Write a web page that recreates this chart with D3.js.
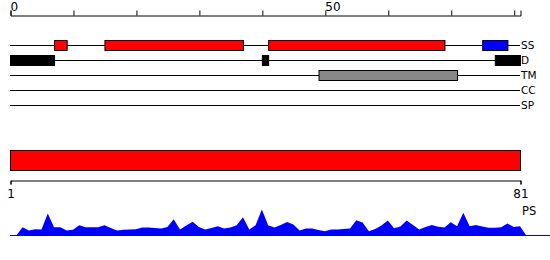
<!DOCTYPE html>
<html lang="en">
<head>
<meta charset="utf-8">
<title>Protein feature plot</title>
<script src="https://d3js.org/d3.v7.min.js"></script>
<style>
  body { margin: 0; background: #fff; }
  text { font-family: "DejaVu Sans", sans-serif; fill: #000; }
</style>
</head>
<body>
<script>
// residue ruler
const rulerTicks = [0, 10, 20, 30, 40, 50, 60, 70, 80];
const rulerLabels = [0, 50];
const seqEnds = [1, 81];

// feature tracks
const trackNames = ["SS", "D", "TM", "CC", "SP"];
const ssStarts = [7, 15, 41, 75];
const ssEnds = [9, 37, 69, 79];
const ssTypes = ["helix", "helix", "helix", "strand"];
const disoStarts = [0, 40, 77];
const disoEnds = [7, 41, 81];
const tmStarts = [49];
const tmEnds = [71];

// per-residue PS profile, residues 1..81
const psValues = [
  0, 8.3, 5, 6.3, 6, 22, 8.3, 8.3, 5, 5.7,
  10.3, 8.3, 8.3, 8.3, 10.3, 7.5, 5, 5.7, 6, 6.3,
  8, 8, 7.5, 7, 8.5, 16.3, 6, 10, 13.7, 8.5,
  6, 7.5, 9.3, 7, 8, 10.3, 18.3, 6, 10.3, 26,
  10.3, 8, 10.5, 13.5, 11, 5, 7, 7, 5.5, 4.3,
  6, 6, 6.5, 7, 15.3, 13, 4.3, 6.5, 10, 15,
  7.3, 9, 15, 10.5, 6, 8.5, 10.5, 8.7, 8, 13.3,
  9.3, 22.7, 9.3, 10.5, 9, 7.7, 7.7, 8.3, 12, 8.5,
  9.3
];

const W = 550, H = 260;
const svg = d3.select("body").append("svg")
  .attr("width", W).attr("height", H);

const x = d3.scaleLinear().domain([0, 81]).range([10, 520]);
const xSeq = d3.scaleLinear().domain(seqEnds).range([10, 520]);
const yTrack = d3.scalePoint().domain(trackNames).range([45, 105]);
const boxH = 10;

// top ruler
const topAxis = d3.axisTop(x)
  .tickValues(rulerTicks)
  .tickSizeOuter(0)
  .tickSize(5)
  .tickPadding(0)
  .tickFormat(d => rulerLabels.includes(d) ? d : "");
const gTop = svg.append("g").attr("transform", "translate(0.5,15.5)").call(topAxis);
gTop.select(".domain").attr("stroke", "#000");
gTop.selectAll("text")
  .attr("font-family", "DejaVu Sans").attr("font-size", 12)
  .attr("text-anchor", "start").attr("dx", -0.5);

// track baselines and labels
const tracks = svg.append("g").attr("transform", "translate(0,0.5)");
tracks.selectAll("line.track")
  .data(trackNames).join("line")
  .attr("class", "track")
  .attr("x1", x(0)).attr("x2", x(81))
  .attr("y1", d => yTrack(d)).attr("y2", d => yTrack(d))
  .attr("stroke", "#000");
tracks.selectAll("text.track")
  .data(trackNames).join("text")
  .attr("class", "track")
  .attr("x", x(81) + 1)
  .attr("y", d => yTrack(d))
  .attr("dy", "0.36em")
  .attr("font-size", 10.5)
  .text(d => d);

const ssColor = { helix: "#ff0000", strand: "#0000ff" };

function drawBoxes(track, starts, ends, fill) {
  tracks.append("g").selectAll("rect")
    .data(starts.map((s, i) => ({ s, e: ends[i], i })))
    .join("rect")
    .attr("x", d => x(d.s) + 0.5)
    .attr("y", yTrack(track) - boxH / 2)
    .attr("width", d => x(d.e) - x(d.s))
    .attr("height", boxH)
    .attr("fill", typeof fill === "function" ? d => fill(d) : fill)
    .attr("stroke", "#000");
}
drawBoxes("SS", ssStarts, ssEnds, d => ssColor[ssTypes[d.i]]);
drawBoxes("D", disoStarts, disoEnds, "#000");
drawBoxes("TM", tmStarts, tmEnds, "#888888");

// full-length sequence bar
svg.append("rect")
  .attr("x", xSeq(1) + 0.5).attr("y", 150.5)
  .attr("width", xSeq(81) - xSeq(1)).attr("height", 20)
  .attr("fill", "#ff0000").attr("stroke", "#000");

const botAxis = d3.axisBottom(xSeq)
  .tickValues(seqEnds)
  .tickSizeOuter(0)
  .tickSize(4)
  .tickPadding(5)
  .tickFormat(d3.format("d"));
const gBot = svg.append("g").attr("transform", "translate(0.5,180.5)").call(botAxis);
gBot.select(".domain").attr("stroke", "#000");
gBot.selectAll("text").attr("font-family", "DejaVu Sans").attr("font-size", 12);

// PS profile
const base = 235.5;
const yPS = d3.scaleLinear().domain([0, 30]).range([base, base - 30]);
const pts = [[0, 0]].concat(psValues.map((v, i) => [i + 1, v]), [[82, 0]]);
svg.append("path")
  .datum(pts)
  .attr("fill", "#0000ff")
  .attr("d", d3.area().x(d => x(d[0])).y0(base).y1(d => yPS(d[1])));
svg.append("line")
  .attr("x1", x(0)).attr("x2", W)
  .attr("y1", base).attr("y2", base)
  .attr("stroke", "#0000ff");
svg.append("text")
  .attr("x", x(81) + 2).attr("y", 215)
  .attr("font-size", 11.5)
  .text("PS");
</script>
</body>
</html>
